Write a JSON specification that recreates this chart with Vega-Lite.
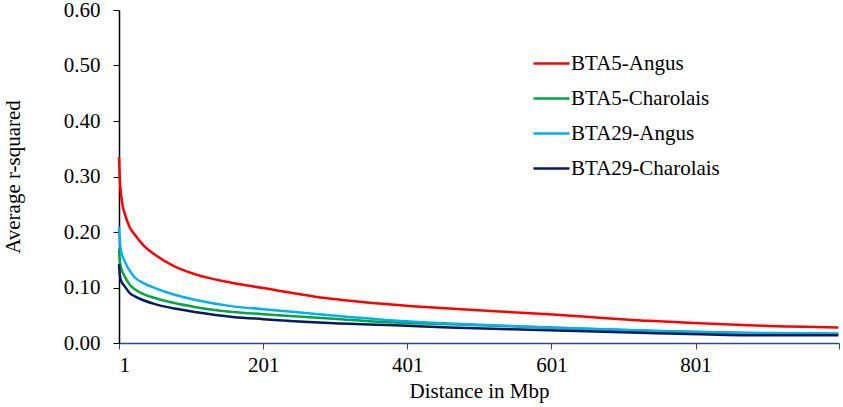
{
  "$schema": "https://vega.github.io/schema/vega-lite/v6.json",
  "width": 720,
  "height": 333,
  "autosize": "none",
  "padding": {"left": 119, "top": 10, "right": 4, "bottom": 64},
  "background": "white",
  "config": {
    "view": {"stroke": null},
    "font": "Liberation Serif",
    "legend": {"labelFont": "Liberation Serif", "labelFontSize": 21, "labelColor": "black"}
  },
  "data": {
    "values": [
      {"series": "BTA5-Angus", "d": 1, "r2": 0.335},
      {"series": "BTA5-Angus", "d": 2, "r2": 0.3},
      {"series": "BTA5-Angus", "d": 5, "r2": 0.256},
      {"series": "BTA5-Angus", "d": 9, "r2": 0.233},
      {"series": "BTA5-Angus", "d": 16, "r2": 0.208},
      {"series": "BTA5-Angus", "d": 23, "r2": 0.195},
      {"series": "BTA5-Angus", "d": 35, "r2": 0.176},
      {"series": "BTA5-Angus", "d": 51, "r2": 0.159},
      {"series": "BTA5-Angus", "d": 78, "r2": 0.138},
      {"series": "BTA5-Angus", "d": 106, "r2": 0.124},
      {"series": "BTA5-Angus", "d": 159, "r2": 0.108},
      {"series": "BTA5-Angus", "d": 201, "r2": 0.099},
      {"series": "BTA5-Angus", "d": 293, "r2": 0.08},
      {"series": "BTA5-Angus", "d": 400, "r2": 0.067},
      {"series": "BTA5-Angus", "d": 459, "r2": 0.062},
      {"series": "BTA5-Angus", "d": 597, "r2": 0.052},
      {"series": "BTA5-Angus", "d": 736, "r2": 0.04},
      {"series": "BTA5-Angus", "d": 874, "r2": 0.032},
      {"series": "BTA5-Angus", "d": 999, "r2": 0.028},
      {"series": "BTA5-Charolais", "d": 1, "r2": 0.169},
      {"series": "BTA5-Charolais", "d": 3, "r2": 0.14},
      {"series": "BTA5-Charolais", "d": 9, "r2": 0.12},
      {"series": "BTA5-Charolais", "d": 16, "r2": 0.105},
      {"series": "BTA5-Charolais", "d": 23, "r2": 0.097},
      {"series": "BTA5-Charolais", "d": 35, "r2": 0.088},
      {"series": "BTA5-Charolais", "d": 51, "r2": 0.081},
      {"series": "BTA5-Charolais", "d": 78, "r2": 0.072},
      {"series": "BTA5-Charolais", "d": 106, "r2": 0.065},
      {"series": "BTA5-Charolais", "d": 159, "r2": 0.056},
      {"series": "BTA5-Charolais", "d": 201, "r2": 0.052},
      {"series": "BTA5-Charolais", "d": 293, "r2": 0.044},
      {"series": "BTA5-Charolais", "d": 400, "r2": 0.036},
      {"series": "BTA5-Charolais", "d": 459, "r2": 0.034},
      {"series": "BTA5-Charolais", "d": 597, "r2": 0.028},
      {"series": "BTA5-Charolais", "d": 736, "r2": 0.022},
      {"series": "BTA5-Charolais", "d": 874, "r2": 0.018},
      {"series": "BTA5-Charolais", "d": 999, "r2": 0.016},
      {"series": "BTA29-Angus", "d": 1, "r2": 0.21},
      {"series": "BTA29-Angus", "d": 3, "r2": 0.172},
      {"series": "BTA29-Angus", "d": 9, "r2": 0.147},
      {"series": "BTA29-Angus", "d": 16, "r2": 0.13},
      {"series": "BTA29-Angus", "d": 23, "r2": 0.118},
      {"series": "BTA29-Angus", "d": 35, "r2": 0.108},
      {"series": "BTA29-Angus", "d": 51, "r2": 0.099},
      {"series": "BTA29-Angus", "d": 78, "r2": 0.087},
      {"series": "BTA29-Angus", "d": 106, "r2": 0.078},
      {"series": "BTA29-Angus", "d": 159, "r2": 0.066},
      {"series": "BTA29-Angus", "d": 201, "r2": 0.061},
      {"series": "BTA29-Angus", "d": 293, "r2": 0.05},
      {"series": "BTA29-Angus", "d": 400, "r2": 0.039},
      {"series": "BTA29-Angus", "d": 459, "r2": 0.035},
      {"series": "BTA29-Angus", "d": 597, "r2": 0.028},
      {"series": "BTA29-Angus", "d": 736, "r2": 0.022},
      {"series": "BTA29-Angus", "d": 874, "r2": 0.018},
      {"series": "BTA29-Angus", "d": 999, "r2": 0.017},
      {"series": "BTA29-Charolais", "d": 1, "r2": 0.142},
      {"series": "BTA29-Charolais", "d": 3, "r2": 0.115},
      {"series": "BTA29-Charolais", "d": 9, "r2": 0.102},
      {"series": "BTA29-Charolais", "d": 16, "r2": 0.09},
      {"series": "BTA29-Charolais", "d": 23, "r2": 0.084},
      {"series": "BTA29-Charolais", "d": 35, "r2": 0.077},
      {"series": "BTA29-Charolais", "d": 51, "r2": 0.07},
      {"series": "BTA29-Charolais", "d": 78, "r2": 0.062},
      {"series": "BTA29-Charolais", "d": 106, "r2": 0.056},
      {"series": "BTA29-Charolais", "d": 159, "r2": 0.047},
      {"series": "BTA29-Charolais", "d": 201, "r2": 0.043},
      {"series": "BTA29-Charolais", "d": 293, "r2": 0.036},
      {"series": "BTA29-Charolais", "d": 400, "r2": 0.031},
      {"series": "BTA29-Charolais", "d": 459, "r2": 0.028},
      {"series": "BTA29-Charolais", "d": 597, "r2": 0.023},
      {"series": "BTA29-Charolais", "d": 736, "r2": 0.018},
      {"series": "BTA29-Charolais", "d": 874, "r2": 0.014},
      {"series": "BTA29-Charolais", "d": 999, "r2": 0.014}
    ]
  },
  "mark": {"type": "line", "strokeWidth": 2.5, "interpolate": "monotone"},
  "encoding": {
    "x": {
      "field": "d",
      "type": "quantitative",
      "title": "Distance in Mbp",
      "scale": {"domain": [1, 1000], "nice": false, "zero": false},
      "axis": {
        "values": [1, 201, 401, 601, 801, 1000],
        "labelExpr": "datum.value > 900 ? '' : datum.label",
        "format": "d",
        "grid": false,
        "domainColor": "#2E4A8C",
        "domainWidth": 1.5,
        "tickColor": "#2E4A8C",
        "tickSize": 6,
        "labelFont": "Liberation Serif",
        "labelFontSize": 21,
        "labelColor": "black",
        "labelPadding": 5,
        "titleFont": "Liberation Serif",
        "titleFontSize": 21,
        "titleFontWeight": "normal",
        "titleColor": "black",
        "titlePadding": 5
      }
    },
    "y": {
      "field": "r2",
      "type": "quantitative",
      "title": "Average r-squared",
      "scale": {"domain": [0, 0.6], "nice": false},
      "axis": {
        "values": [0, 0.1, 0.2, 0.3, 0.4, 0.5, 0.6],
        "format": ".2f",
        "grid": false,
        "domainColor": "black",
        "domainWidth": 1.5,
        "tickColor": "black",
        "tickSize": 6,
        "labelFont": "Liberation Serif",
        "labelFontSize": 21,
        "labelColor": "black",
        "labelPadding": 13,
        "titleFont": "Liberation Serif",
        "titleFontSize": 21,
        "titleFontWeight": "normal",
        "titleColor": "black",
        "titlePadding": 40
      }
    },
    "color": {
      "field": "series",
      "type": "nominal",
      "sort": ["BTA5-Angus", "BTA5-Charolais", "BTA29-Angus", "BTA29-Charolais"],
      "scale": {
        "domain": ["BTA5-Angus", "BTA5-Charolais", "BTA29-Angus", "BTA29-Charolais"],
        "range": ["#FF0000", "#00A544", "#00B0F0", "#0A1A5C"]
      },
      "legend": {
        "title": null,
        "orient": "none",
        "legendX": 413,
        "legendY": 34,
        "symbolType": "stroke",
        "symbolSize": 1296,
        "symbolStrokeWidth": 2.5,
        "labelFont": "Liberation Serif",
        "labelFontSize": 21,
        "labelColor": "black",
        "labelOffset": 0,
        "rowPadding": 5
      }
    }
  }
}
